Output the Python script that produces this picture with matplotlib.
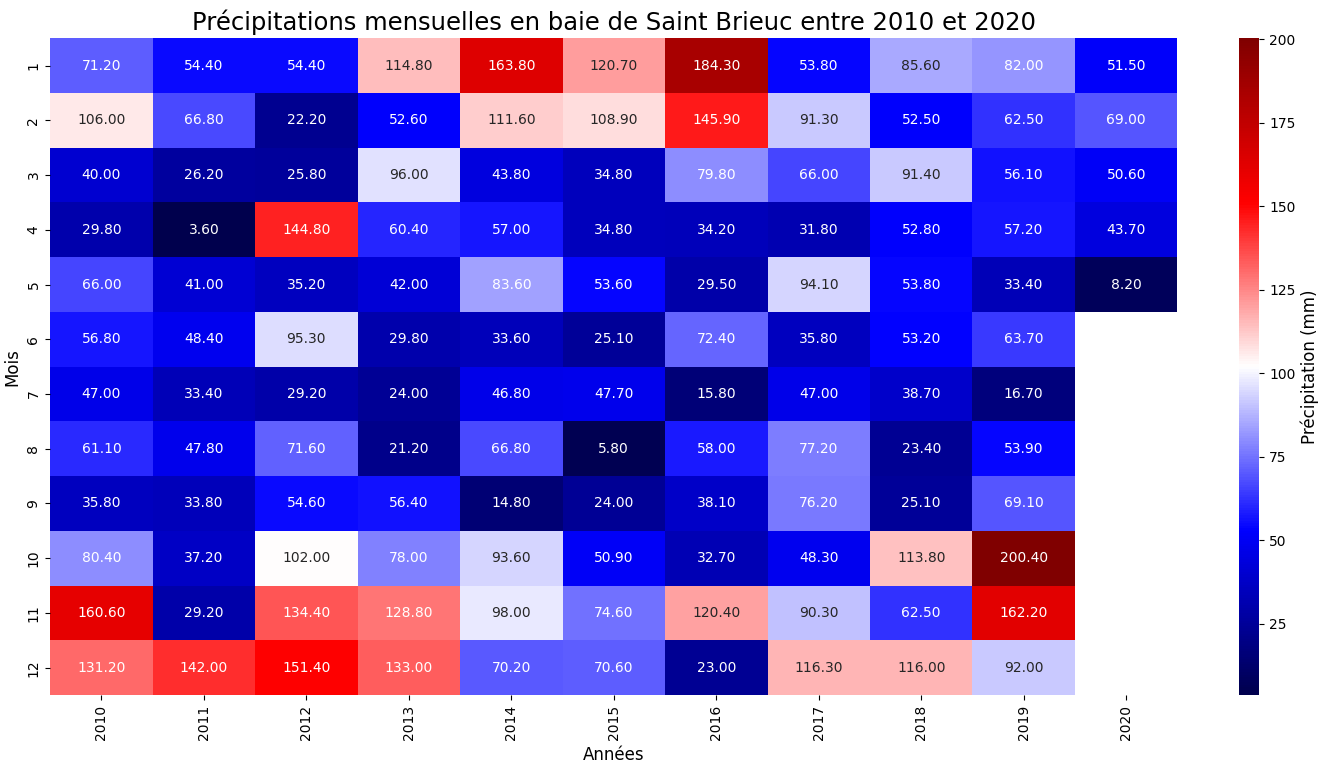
import numpy as np
import pandas as pd
import matplotlib
matplotlib.use("Agg")
import matplotlib.pyplot as plt
import seaborn as sns

annees = [2010, 2011, 2012, 2013, 2014, 2015, 2016, 2017, 2018, 2019, 2020]
mois = list(range(1, 13))

p2010 = [71.2, 106.0, 40.0, 29.8, 66.0, 56.8, 47.0, 61.1, 35.8, 80.4, 160.6, 131.2]
p2011 = [54.4, 66.8, 26.2, 3.6, 41.0, 48.4, 33.4, 47.8, 33.8, 37.2, 29.2, 142.0]
p2012 = [54.4, 22.2, 25.8, 144.8, 35.2, 95.3, 29.2, 71.6, 54.6, 102.0, 134.4, 151.4]
p2013 = [114.8, 52.6, 96.0, 60.4, 42.0, 29.8, 24.0, 21.2, 56.4, 78.0, 128.8, 133.0]
p2014 = [163.8, 111.6, 43.8, 57.0, 83.6, 33.6, 46.8, 66.8, 14.8, 93.6, 98.0, 70.2]
p2015 = [120.7, 108.9, 34.8, 34.8, 53.6, 25.1, 47.7, 5.8, 24.0, 50.9, 74.6, 70.6]
p2016 = [184.3, 145.9, 79.8, 34.2, 29.5, 72.4, 15.8, 58.0, 38.1, 32.7, 120.4, 23.0]
p2017 = [53.8, 91.3, 66.0, 31.8, 94.1, 35.8, 47.0, 77.2, 76.2, 48.3, 90.3, 116.3]
p2018 = [85.6, 52.5, 91.4, 52.8, 53.8, 53.2, 38.7, 23.4, 25.1, 113.8, 62.5, 116.0]
p2019 = [82.0, 62.5, 56.1, 57.2, 33.4, 63.7, 16.7, 53.9, 69.1, 200.4, 162.2, 92.0]
p2020 = [51.5, 69.0, 50.6, 43.7, 8.2] + [np.nan] * 7

df = pd.DataFrame({2010: p2010, 2011: p2011, 2012: p2012, 2013: p2013,
                   2014: p2014, 2015: p2015, 2016: p2016, 2017: p2017,
                   2018: p2018, 2019: p2019, 2020: p2020}, index=mois)

fig = plt.figure(figsize=(13.2, 7.63), dpi=100)
ax = fig.add_axes([0.038, 0.089, 0.854, 0.861])
cax = fig.add_axes([0.939, 0.089, 0.015, 0.861])

sns.heatmap(df, ax=ax, cbar_ax=cax, cmap="seismic", annot=True, fmt=".2f",
            cbar_kws={"label": "Précipitation (mm)"})

ax.set_title("Précipitations mensuelles en baie de Saint Brieuc entre 2010 et 2020", fontsize=17.5)
ax.set_xlabel("Années", fontsize=12)
ax.set_ylabel("Mois", fontsize=12)
ax.set_xticklabels(annees, rotation=90)
ax.set_yticklabels(mois, rotation=90, va="center")
cax.yaxis.label.set_size(12)

fig.savefig("out.png", dpi=100)
